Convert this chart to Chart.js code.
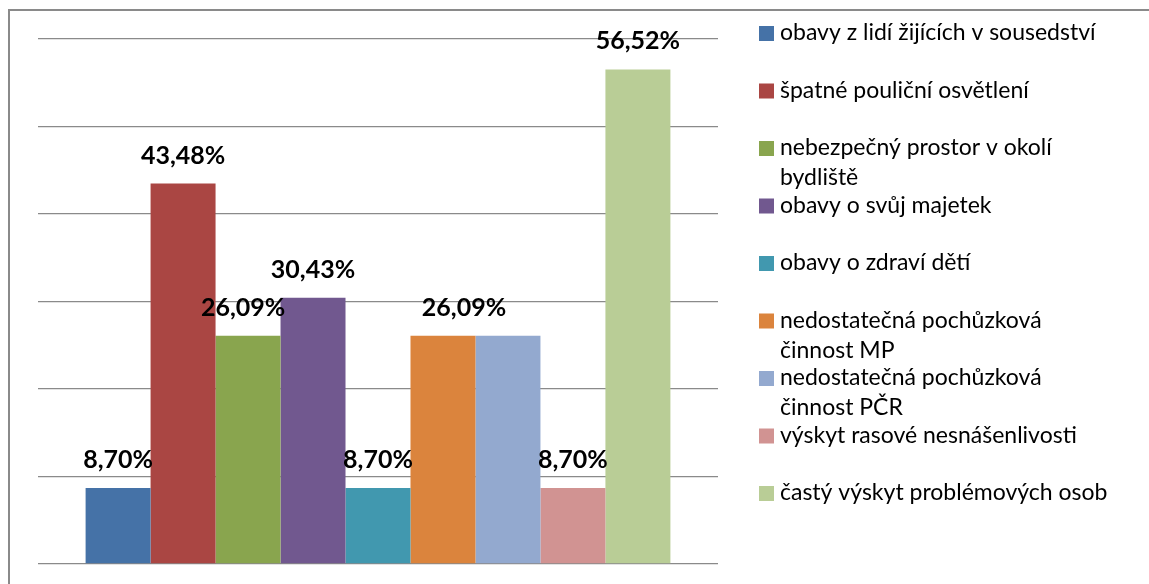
<!DOCTYPE html>
<html>
<head>
<meta charset="utf-8">
<script src="https://cdn.jsdelivr.net/npm/chart.js@4/dist/chart.umd.min.js"></script>
<style>
  html, body { margin: 0; padding: 0; background: #ffffff; }
  #wrap { position: relative; width: 1149px; height: 584px; }
</style>
</head>
<body>
<div id="wrap"><canvas id="c" width="1149" height="584"></canvas></div>
<script>
// ---- data ----
const categories = [''];
const seriesNames = [
  ['obavy z lidí žijících v sousedství'],
  ['špatné pouliční osvětlení'],
  ['nebezpečný prostor v okolí', 'bydliště'],
  ['obavy o svůj majetek'],
  ['obavy o zdraví dětí'],
  ['nedostatečná pochůzková', 'činnost MP'],
  ['nedostatečná pochůzková', 'činnost PČR'],
  ['výskyt rasové nesnášenlivosti'],
  ['častý výskyt problémových osob']
];
const seriesValues = [8.70, 43.48, 26.09, 30.43, 8.70, 26.09, 26.09, 8.70, 56.52];
const seriesColors = ['#4572A7', '#AA4643', '#89A54E', '#71588F', '#4198AF', '#DB843D', '#93A9CF', '#D19392', '#B9CD96'];
const showValueLabel = [true, true, true, true, true, true, false, true, true];
const yTicks = [0, 10, 20, 30, 40, 50, 60];

// ---- styling ----
const FONT = 'Lato, "Open Sans", sans-serif';
const labelShiftX = [0, 0, -5, 0, 0, 21, 0, 0, 0];

const datasets = seriesNames.map((n, i) => ({
  label: n.join(' '),
  data: [seriesValues[i]],
  backgroundColor: seriesColors[i],
  borderWidth: 0,
  categoryPercentage: 0.86,
  barPercentage: 1.0
}));

const framePlugin = {
  id: 'frame',
  beforeDraw(chart) {
    const ctx = chart.ctx;
    ctx.save();
    ctx.strokeStyle = '#8a8a8a';
    ctx.lineWidth = 2;
    ctx.beginPath();
    ctx.moveTo(9, 584);
    ctx.lineTo(9, 10);
    ctx.lineTo(1149, 10);
    ctx.stroke();
    ctx.restore();
  }
};

const valueLabelPlugin = {
  id: 'valueLabels',
  afterDatasetsDraw(chart) {
    const ctx = chart.ctx;
    ctx.save();
    ctx.font = 'bold 25px ' + FONT;
    ctx.fillStyle = '#000000';
    ctx.textAlign = 'center';
    ctx.textBaseline = 'alphabetic';
    chart.data.datasets.forEach((ds, i) => {
      if (!showValueLabel[i]) return;
      const el = chart.getDatasetMeta(i).data[0];
      const txt = seriesValues[i].toFixed(2).replace('.', ',') + '%';
      ctx.fillText(txt, el.x + labelShiftX[i], el.y - 20);
    });
    ctx.restore();
  }
};

const legendPlugin = {
  id: 'sideLegend',
  afterDraw(chart) {
    const ctx = chart.ctx;
    ctx.save();
    ctx.font = '23px ' + FONT;
    ctx.fillStyle = '#000000';
    ctx.textAlign = 'left';
    ctx.textBaseline = 'alphabetic';
    seriesNames.forEach((lines, i) => {
      const top = 26 + 57.5 * i;
      ctx.fillStyle = seriesColors[i];
      ctx.fillRect(759, top, 15, 15);
      ctx.fillStyle = '#000000';
      lines.forEach((ln, k) => {
        ctx.fillText(ln, 780, top + 14 + k * 30);
      });
    });
    ctx.restore();
  }
};

new Chart(document.getElementById('c'), {
  type: 'bar',
  data: { labels: categories, datasets },
  options: {
    responsive: false,
    animation: false,
    layout: { padding: { left: 38, top: 39, right: 431, bottom: 20 } },
    plugins: {
      legend: { display: false },
      tooltip: { enabled: false },
      title: { display: false }
    },
    scales: {
      x: { display: false },
      y: {
        min: 0, max: 60,
        afterBuildTicks(axis) { axis.ticks = yTicks.map(v => ({ value: v })); },
        ticks: { display: false },
        border: { display: false },
        grid: { color: '#8a8a8a', lineWidth: 1.3, drawTicks: false }
      }
    }
  },
  plugins: [framePlugin, valueLabelPlugin, legendPlugin]
});
</script>
</body>
</html>
